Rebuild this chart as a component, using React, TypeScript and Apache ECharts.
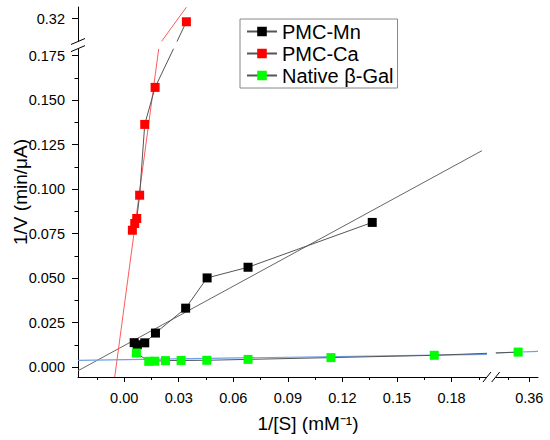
import React, { useEffect, useRef } from "react";
import * as echarts from "echarts";

const FONT = "Arial, 'Liberation Sans', Helvetica, sans-serif";

// ---- axis breaks (value space) ----
const X_MIN = -0.0254;
const X_BREAK_LOW = 0.1995;
const X_BREAK_HIGH = 0.336;
const X_MAX = 0.3662;
const X_GAP = 0.0048;
const X_HIGH_SCALE = 0.77;

const Y_MIN = -0.0056;
const Y_BREAK_LOW = 0.179;
const Y_BREAK_HIGH = 0.3072;
const Y_MAX = 0.3266;
const Y_GAP = 0.004;
const Y_HIGH_SCALE = 1;

// ---- ticks ----
const xTickValues = [0, 0.03, 0.06, 0.09, 0.12, 0.15, 0.18, 0.36];
const xTickLabels = ["0.00", "0.03", "0.06", "0.09", "0.12", "0.15", "0.18", "0.36"];
const xMinorTicks = [-0.015, 0.015, 0.045, 0.075, 0.105, 0.135, 0.165, 0.195, 0.345];
const yTickValues = [0, 0.025, 0.05, 0.075, 0.1, 0.125, 0.15, 0.175, 0.32];
const yTickLabels = ["0.000", "0.025", "0.050", "0.075", "0.100", "0.125", "0.150", "0.175", "0.32"];
const yMinorTicks = [0.0125, 0.0375, 0.0625, 0.0875, 0.1125, 0.1375, 0.1625];

// ---- data ----
const seriesNames = ["PMC-Mn", "PMC-Ca", "Native β-Gal"];
const mnPoints = [
  [0.0055, 0.0137], [0.0072, 0.0125], [0.0113, 0.0136], [0.0172, 0.0191],
  [0.0338, 0.0331], [0.0456, 0.0501], [0.0681, 0.0561], [0.1364, 0.0813],
];
const caPoints = [
  [0.0045, 0.0769], [0.0058, 0.0807], [0.0069, 0.0835], [0.0085, 0.0966],
  [0.0113, 0.1364], [0.017, 0.1572], [0.0342, 0.3183],
];
const galPoints = [
  [0.0067, 0.0079], [0.0135, 0.0032], [0.0168, 0.0033], [0.0227, 0.0036],
  [0.0313, 0.0037], [0.0454, 0.0038], [0.0681, 0.0043], [0.1137, 0.0053],
  [0.1705, 0.0066], [0.352, 0.0084],
];

// fitted lines (segment end points)
const mnFit = [[-0.0254, -0.0021], [0.1967, 0.1216]];
const caFitLow = [[-0.0052, -0.0056], [0.019, 0.179]];
const caFitHigh = [[0.0205, 0.3072], [0.0342, 0.3265]];
const galFitLow = [[-0.0254, 0.0038], [0.1995, 0.0071]];
const galFitHigh = [[0.336, 0.0079], [0.3662, 0.0088]];

// ---- broken-axis mapping ----
const tx = (v: number) =>
  v <= X_BREAK_LOW ? v : X_BREAK_LOW + X_GAP + (v - X_BREAK_HIGH) * X_HIGH_SCALE;
const ty = (v: number) =>
  v <= Y_BREAK_LOW ? v : Y_BREAK_LOW + Y_GAP + (v - Y_BREAK_HIGH) * Y_HIGH_SCALE;
const mapPts = (pts: number[][]) => pts.map(([x, y]) => [tx(x), ty(y)]);

const labelFmt = (vals: number[], labels: string[], f: (v: number) => number) => (v: number) => {
  const i = vals.findIndex((t) => Math.abs(f(t) - v) < 1e-6);
  return i >= 0 ? labels[i] : "";
};

const GRAY = "#555555";

function buildOption(): any {
  const xMinD = tx(X_MIN);
  const xMaxD = tx(X_MAX);
  const yMinD = ty(Y_MIN);
  const yMaxD = ty(Y_MAX);
  const fitLine = (name: string, data: number[][], color: string, width = 1) => ({
    name,
    type: "line",
    data: mapPts(data),
    symbol: "none",
    silent: true,
    lineStyle: { color, width },
    z: 2,
  });
  const dataLine = (name: string, data: number[][], color: string) => ({
    name,
    type: "line",
    data: mapPts(data),
    symbol: "rect",
    symbolSize: 9,
    itemStyle: { color },
    lineStyle: { color: GRAY, width: 1 },
    z: 3,
  });
  return {
    animation: false,
    backgroundColor: "#ffffff",
    textStyle: { fontFamily: FONT },
    grid: { left: 78, right: 12, top: 7, bottom: 63, containLabel: false, outerBoundsMode: "none" },
    legend: {
      data: seriesNames,
      orient: "vertical",
      left: 240,
      top: 19,
      selectedMode: false,
      backgroundColor: "#ffffff",
      borderColor: "#888888",
      borderWidth: 1,
      borderRadius: 0,
      padding: [2, 4, 2, 6],
      itemGap: 1,
      itemWidth: 30,
      itemHeight: 12,
      textStyle: { fontSize: 20, fontFamily: FONT, color: "#000", lineHeight: 21 },
    },
    xAxis: [
      {
        type: "value",
        min: xMinD,
        max: xMaxD,
        name: "1/[S] (mM⁻¹)",
        nameLocation: "middle",
        nameGap: 37,
        nameMoveOverlap: false,
        nameTextStyle: { fontSize: 19, fontFamily: FONT, color: "#000" },
        axisLine: { show: true, onZero: false, lineStyle: { color: "#000", width: 1 } },
        axisTick: {
          show: true,
          inside: false,
          length: 5,
          customValues: xTickValues.map(tx),
          lineStyle: { color: "#000", width: 1 },
        },
        axisLabel: {
          show: true,
          customValues: xTickValues.map(tx),
          formatter: labelFmt(xTickValues, xTickLabels, tx),
          fontSize: 14.5,
          fontFamily: FONT,
          color: "#000",
          margin: 13,
        },
        splitLine: { show: false },
      },
      {
        type: "value",
        min: xMinD,
        max: xMaxD,
        position: "bottom",
        axisLine: { show: false, onZero: false },
        axisTick: {
          show: true,
          inside: false,
          length: 3,
          customValues: xMinorTicks.map(tx),
          lineStyle: { color: "#000", width: 1 },
        },
        axisLabel: { show: false },
        splitLine: { show: false },
      },
    ],
    yAxis: [
      {
        type: "value",
        min: yMinD,
        max: yMaxD,
        name: "1/V (min/μA)",
        nameLocation: "middle",
        nameGap: 48,
        nameMoveOverlap: false,
        nameTextStyle: { fontSize: 19, fontFamily: FONT, color: "#000" },
        axisLine: { show: true, onZero: false, lineStyle: { color: "#000", width: 1 } },
        axisTick: {
          show: true,
          inside: false,
          length: 6,
          customValues: yTickValues.map(ty),
          lineStyle: { color: "#000", width: 1 },
        },
        axisLabel: {
          show: true,
          customValues: yTickValues.map(ty),
          formatter: labelFmt(yTickValues, yTickLabels, ty),
          fontSize: 14.5,
          fontFamily: FONT,
          color: "#000",
          margin: 13,
        },
        splitLine: { show: false },
      },
      {
        type: "value",
        min: yMinD,
        max: yMaxD,
        position: "left",
        axisLine: { show: false, onZero: false },
        axisTick: {
          show: true,
          inside: false,
          length: 3.5,
          customValues: yMinorTicks.map(ty),
          lineStyle: { color: "#000", width: 1 },
        },
        axisLabel: { show: false },
        splitLine: { show: false },
      },
    ],
    series: [
      fitLine("fit-mn", mnFit, "#666666", 1),
      fitLine("fit-ca-low", caFitLow, "#ff5a5a", 1),
      fitLine("fit-ca-high", caFitHigh, "#ff5a5a", 1),
      fitLine("fit-gal-low", galFitLow, "#6f9fe6", 1.2),
      fitLine("fit-gal-high", galFitHigh, "#6f9fe6", 1.2),
      dataLine(seriesNames[0], mnPoints, "#000000"),
      dataLine(seriesNames[1], caPoints, "#ff0000"),
      dataLine(seriesNames[2], galPoints, "#00ff00"),
    ],
  };
}

export default function App() {
  const ref = useRef<HTMLDivElement>(null);
  useEffect(() => {
    document.body.style.margin = "0";
    if (!ref.current) return;
    const chart = echarts.init(ref.current, null, { renderer: "svg" });
    chart.setOption(buildOption());

    const px = (x: number, y: number) =>
      chart.convertToPixel({ gridIndex: 0 }, [x, y]) as number[];
    const axisX = px(tx(X_MIN), 0)[0];
    const axisY = px(0, ty(Y_MIN))[1];
    const yLow = px(0, Y_BREAK_LOW)[1];
    const yHigh = px(0, Y_BREAK_LOW + Y_GAP)[1];
    const xLow = px(X_BREAK_LOW, 0)[0];
    const xHigh = px(X_BREAK_LOW + X_GAP, 0)[0];
    const yBandRight = px(0.05, 0)[0];
    const xBandTop = px(0, 0.03)[1];

    const slash = (x1: number, y1: number, x2: number, y2: number) => ({
      type: "line",
      z: 51,
      silent: true,
      shape: { x1, y1, x2, y2 },
      style: { stroke: "#000", lineWidth: 1 },
    });
    chart.setOption({
      graphic: {
        elements: [
          {
            type: "rect",
            z: 50,
            silent: true,
            shape: { x: axisX - 9, y: yHigh, width: yBandRight - axisX + 9, height: yLow - yHigh },
            style: { fill: "#ffffff" },
          },
          {
            type: "rect",
            z: 50,
            silent: true,
            shape: { x: xLow, y: xBandTop, width: xHigh - xLow, height: axisY - xBandTop + 2 },
            style: { fill: "#ffffff" },
          },
          slash(axisX - 7, yLow + 3, axisX + 7, yLow - 3),
          slash(axisX - 7, yHigh + 3, axisX + 7, yHigh - 3),
          slash(xLow - 4, axisY + 5, xLow + 4, axisY - 5),
          slash(xHigh - 4, axisY + 5, xHigh + 4, axisY - 5),
        ],
      },
    });
    return () => chart.dispose();
  }, []);
  return <div ref={ref} style={{ width: 550, height: 440 }} />;
}
